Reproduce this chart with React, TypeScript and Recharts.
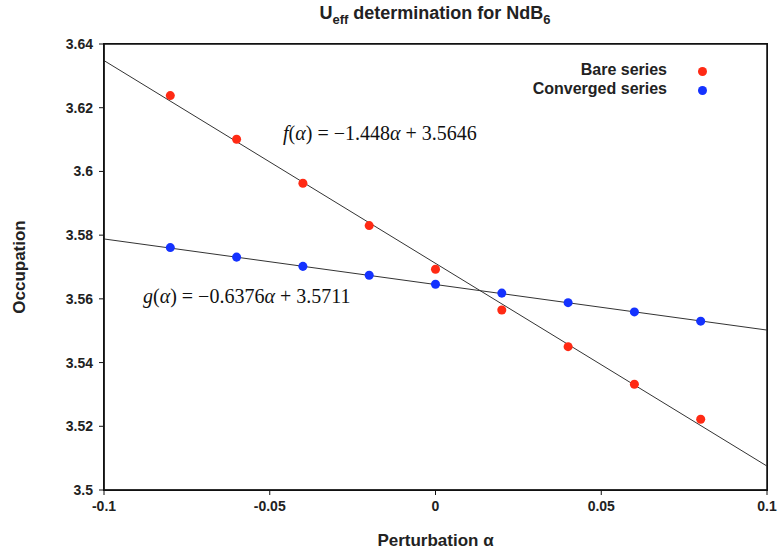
import React from "react";
import { ComposedChart, Scatter, Line, XAxis, YAxis, ReferenceArea } from "recharts";

const alphas = [-0.08, -0.06, -0.04, -0.02, 0, 0.02, 0.04, 0.06, 0.08];
const bare = [3.6238, 3.6101, 3.5963, 3.583, 3.5693, 3.5565, 3.545, 3.5332, 3.5222];
const converged = [3.5761, 3.5731, 3.5702, 3.5674, 3.5646, 3.5618, 3.5588, 3.5559, 3.553];

// fitted lines as drawn, read at the plot edges
const fitX = [-0.1, 0.1];
const fitF = [3.6348, 3.5075];
const fitG = [3.5788, 3.5502];

const xTicks = [-0.1, -0.05, 0, 0.05, 0.1];
const yTicks = [3.5, 3.52, 3.54, 3.56, 3.58, 3.6, 3.62, 3.64];

const bareData = alphas.map((x, i) => ({ x, y: bare[i] }));
const convData = alphas.map((x, i) => ({ x, y: converged[i] }));
const fData = fitX.map((x, i) => ({ x, y: fitF[i] }));
const gData = fitX.map((x, i) => ({ x, y: fitG[i] }));

const sans = "'Liberation Sans', Arial, sans-serif";
const serif = "'Liberation Serif', 'Times New Roman', serif";
const tickStyle = { fontFamily: sans, fontSize: 14, fontWeight: 700, fill: "#222" };
const titleStyle = { fontFamily: sans, fontSize: 17, fontWeight: 700, fill: "#222" };

export default function App() {
  return (
    <div style={{ position: "absolute", left: 0, top: 0, width: 778, height: 553, background: "#fff" }}>
      <ComposedChart width={778} height={553} margin={{ top: 44, right: 11, bottom: 0, left: 0 }}>
        <XAxis
          dataKey="x"
          type="number"
          domain={[-0.1, 0.1]}
          ticks={xTicks}
          height={63}
          tickMargin={6}
          tickSize={5}
          tick={tickStyle}
          stroke="#111"
          label={{ value: "Perturbation α", position: "insideBottom", offset: 7, style: { ...titleStyle, textAnchor: "middle" } }}
        />
        <YAxis
          dataKey="y"
          type="number"
          domain={[3.5, 3.64]}
          ticks={yTicks}
          width={104}
          tickMargin={6}
          tickSize={5}
          tick={tickStyle}
          stroke="#111"
          label={{ value: "Occupation", angle: -90, position: "insideLeft", offset: 19, style: { ...titleStyle, textAnchor: "middle" } }}
        />
        <ReferenceArea x1={-0.1} x2={0.1} y1={3.5} y2={3.64} fill="none" stroke="#111" strokeWidth={1.5} />
        <Line data={fData} dataKey="y" stroke="#333" strokeWidth={1} dot={false} isAnimationActive={false} />
        <Line data={gData} dataKey="y" stroke="#333" strokeWidth={1} dot={false} isAnimationActive={false} />
        <Scatter data={bareData} fill="#ff2a14" isAnimationActive={false} />
        <Scatter data={convData} fill="#1432ff" isAnimationActive={false} />
      </ComposedChart>

      {/* plot frame */}
      <div style={{ position: "absolute", left: 103, top: 43, width: 663, height: 446, border: "1.5px solid #111", pointerEvents: "none" }} />

      <div style={{ position: "absolute", left: 0, width: 778, top: 3, textAlign: "center", paddingLeft: 92, boxSizing: "border-box", fontFamily: sans, fontSize: 18, fontWeight: 700, color: "#222" }}>
        U<sub style={{ fontSize: 13 }}>eff</sub> determination for NdB<sub style={{ fontSize: 13 }}>6</sub>
      </div>

      <div style={{ position: "absolute", left: 520, width: 147, top: 60, textAlign: "right", fontFamily: sans, fontSize: 16, fontWeight: 700, color: "#222", lineHeight: "19px" }}>
        <div>Bare series</div>
        <div>Converged series</div>
      </div>
      <div style={{ position: "absolute", left: 698, top: 67, width: 9, height: 9, borderRadius: "50%", background: "#ff2a14" }} />
      <div style={{ position: "absolute", left: 698, top: 86, width: 9, height: 9, borderRadius: "50%", background: "#1432ff" }} />

      <div style={{ position: "absolute", left: 283, top: 122, fontFamily: serif, fontSize: 20, color: "#111", whiteSpace: "nowrap" }}>
        <i>f</i>(<i>α</i>) = −1.448<i>α</i> + 3.5646
      </div>
      <div style={{ position: "absolute", left: 143, top: 285, fontFamily: serif, fontSize: 20, color: "#111", whiteSpace: "nowrap" }}>
        <i>g</i>(<i>α</i>) = −0.6376<i>α</i> + 3.5711
      </div>
    </div>
  );
}
